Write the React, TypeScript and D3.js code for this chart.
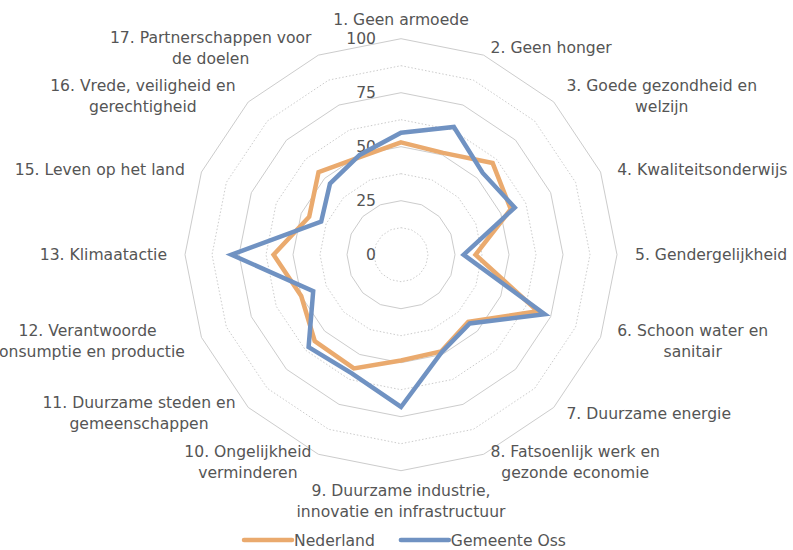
import React from "react";
import * as d3 from "d3";

const categories = [
  "1. Geen armoede",
  "2. Geen honger",
  "3. Goede gezondheid en\nwelzijn",
  "4. Kwaliteitsonderwijs",
  "5. Gendergelijkheid",
  "6. Schoon water en\nsanitair",
  "7. Duurzame energie",
  "8. Fatsoenlijk werk en\ngezonde economie",
  "9. Duurzame industrie,\ninnovatie en infrastructuur",
  "10. Ongelijkheid\nverminderen",
  "11. Duurzame steden en\ngemeenschappen",
  "12. Verantwoorde\nconsumptie en productie",
  "13. Klimaatactie",
  "15. Leven op het land",
  "16. Vrede, veiligheid en\ngerechtigheid",
  "17. Partnerschappen voor\nde doelen",
];

const nederland = [52, 51, 60, 55, 34.5, 68.5, 44, 48.5, 49, 57, 56.5, 50, 59, 46, 54, 49];
const oss = [56.5, 64, 53.5, 57, 29, 72, 45, 49, 70.5, 59.5, 60.5, 44, 78.5, 40, 46.5, 50];

const seriesNames = ["Nederland", "Gemeente Oss"];
const tickValues = [0, 25, 50, 75, 100];
const gridLevels = [12.5, 25, 37.5, 50, 62.5, 75, 87.5, 100];

const W = 793;
const H = 550;
const CX = 401;
const CY = 254.7;
const R = 216;
const FONT_SIZE = 15.6;
const FONT_FAMILY = "'DejaVu Sans', sans-serif";
const TEXT_COLOR = "#555555";
const GRID_COLOR = "#cccccc";
const COLORS = ["#EAAA6E", "#7092C2"];
const LINE_H = 21;

let ctx: CanvasRenderingContext2D | null = null;
function measure(text: string): number {
  if (!ctx) ctx = document.createElement("canvas").getContext("2d");
  if (!ctx) return text.length * FONT_SIZE * 0.6;
  ctx.font = `${FONT_SIZE}px ${FONT_FAMILY}`;
  return ctx.measureText(text).width;
}

export default function App() {
  const n = categories.length;
  const r = d3.scaleLinear().domain([0, 100]).range([0, R]);
  const angle = d3
    .scaleLinear()
    .domain([0, n])
    .range([0, 2 * Math.PI]);

  const radialLine = d3
    .lineRadial<number>()
    .angle((_d, i) => angle(i))
    .radius((d) => r(d))
    .curve(d3.curveLinearClosed);

  const gridPath = (level: number) =>
    radialLine(categories.map(() => level)) || "";

  const labels = categories.map((c, i) => {
    const a = angle(i);
    const s = Math.sin(a);
    const co = Math.cos(a);
    const vx = CX + R * s;
    const vy = CY - R * co;
    const lines = c.split("\n");
    const w = Math.max(...lines.map(measure));
    let cx = vx;
    let cy = vy;
    if (s > 0.01) {
      cx = vx + 18 * s + w / 2;
      cy = vy - 8 * co;
    } else if (s < -0.01) {
      cx = vx + 18 * s - w / 2;
      cy = vy - 8 * co;
    } else {
      cy = vy - co * (9 + (lines.length * LINE_H) / 2);
    }
    return { lines, cx, cy };
  });

  const legendItems = seriesNames.map((name) => ({
    name,
    tw: measure(name),
  }));
  const lineLen = 48;
  const gapLT = 2;
  const itemGap = 26;
  const totalW =
    legendItems.reduce((acc, it) => acc + lineLen + gapLT + it.tw, 0) +
    itemGap * (legendItems.length - 1);
  let lx = 405 - totalW / 2;
  const legendY = 540;
  const legendPos = legendItems.map((it) => {
    const x = lx;
    lx += lineLen + gapLT + it.tw + itemGap;
    return { ...it, x };
  });

  const data = [nederland, oss];

  return (
    <svg
      width={W}
      height={H}
      style={{ position: "absolute", left: 0, top: 0, background: "#fff" }}
      fontFamily={FONT_FAMILY}
      fontSize={FONT_SIZE}
    >
      <g transform={`translate(${CX},${CY})`}>
        {gridLevels.map((lv) => (
          <path
            key={lv}
            d={gridPath(lv)}
            fill="none"
            stroke={GRID_COLOR}
            strokeWidth={1}
            strokeDasharray={lv % 25 === 0 ? undefined : "1.5,2"}
          />
        ))}
        {tickValues.map((t) => (
          <text
            key={t}
            x={-25}
            y={-r(t)}
            dy="0.36em"
            textAnchor="end"
            fill={TEXT_COLOR}
          >
            {t}
          </text>
        ))}
        {data.map((d, k) => (
          <path
            key={k}
            d={radialLine(d) || ""}
            fill="none"
            stroke={COLORS[k]}
            strokeWidth={4.5}
            strokeLinejoin="miter"
          />
        ))}
      </g>
      {labels.map((l, i) => (
        <text key={i} textAnchor="middle" fill={TEXT_COLOR}>
          {l.lines.map((ln, j) => (
            <tspan
              key={j}
              x={l.cx}
              y={l.cy + (j - (l.lines.length - 1) / 2) * LINE_H}
              dy="0.36em"
            >
              {ln}
            </tspan>
          ))}
        </text>
      ))}
      {legendPos.map((it, k) => (
        <g key={it.name}>
          <line
            x1={it.x}
            x2={it.x + lineLen}
            y1={legendY}
            y2={legendY}
            stroke={COLORS[k]}
            strokeWidth={4.5}
            strokeLinecap="round"
          />
          <text
            x={it.x + lineLen + gapLT}
            y={legendY}
            dy="0.36em"
            fill={TEXT_COLOR}
          >
            {it.name}
          </text>
        </g>
      ))}
    </svg>
  );
}
